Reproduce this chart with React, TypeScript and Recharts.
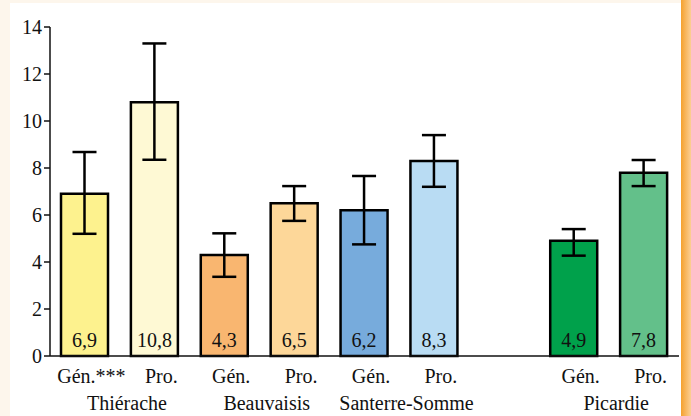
import React from 'react';
import { BarChart, Bar, XAxis, YAxis, ErrorBar, Cell, LabelList } from 'recharts';

const categories = ['Gén.***', 'Pro.', 'Gén.', 'Pro.', 'Gén.', 'Pro.', '', 'Gén.', 'Pro.'];
const groupNames = ['Thiérache', 'Beauvaisis', 'Santerre-Somme', 'Picardie'];
const groupStartIndex = [0, 2, 4, 7];
const values: (number | null)[] = [6.9, 10.8, 4.3, 6.5, 6.2, 8.3, null, 4.9, 7.8];
const lowerBounds: (number | null)[] = [5.2, 8.35, 3.37, 5.75, 4.75, 7.2, null, 4.27, 7.23];
const upperBounds: (number | null)[] = [8.68, 13.3, 5.22, 7.23, 7.66, 9.4, null, 5.4, 8.34];
const barColors = ['#fdf28e', '#fef9d4', '#f9b670', '#fdd799', '#77abdc', '#b9dcf3', '#ffffff', '#00a14b', '#63c08a'];
const yTicks = [0, 2, 4, 6, 8, 10, 12, 14];

const data = categories.map((c, i) => ({
  key: `c${i}`,
  label: c,
  value: values[i],
  err:
    values[i] == null
      ? null
      : [(values[i] as number) - (lowerBounds[i] as number), (upperBounds[i] as number) - (values[i] as number)],
}));

const FONT = "'Liberation Serif', 'DejaVu Serif', serif";
const textStyle: React.CSSProperties = { fontFamily: FONT, fontSize: 20, fill: '#111' };

const XTick = (props: any) => {
  const { x, y, payload } = props;
  const idx = payload.index;
  const gi = groupStartIndex.indexOf(idx);
  return (
    <g>
      <text x={x + 6.5} y={y + 19} textAnchor="middle" style={textStyle}>
        {categories[idx]}
      </text>
      {gi >= 0 && (
        <text x={x + 35 + 7} y={y + 46} textAnchor="middle" style={textStyle}>
          {groupNames[gi]}
        </text>
      )}
    </g>
  );
};

const YTick = (props: any) => {
  const { x, y, payload } = props;
  return (
    <text x={x} y={y + 7} textAnchor="end" style={textStyle}>
      {payload.value}
    </text>
  );
};

const ValueLabel = (props: any) => {
  const { x, y, width, height, value } = props;
  if (value == null) return null;
  return (
    <text x={x + width / 2} y={y + height - 9} textAnchor="middle" style={textStyle}>
      {String(value).replace('.', ',')}
    </text>
  );
};

export default function App() {
  return (
    <div
      style={{
        position: 'absolute',
        left: 0,
        top: 0,
        width: 691,
        height: 416,
        background: '#fdf6ec',
        overflow: 'hidden',
      }}
    >
      <div style={{ position: 'absolute', left: 10, top: 3, width: 671, height: 413, background: '#ffffff' }} />
      <div
        style={{
          position: 'absolute',
          left: 681,
          top: 0,
          width: 10,
          height: 416,
          background: 'linear-gradient(to right, #f5a12e, #fbcf94)',
        }}
      />
      <div style={{ position: 'absolute', left: 0, top: 0 }}>
        <BarChart
          width={691}
          height={416}
          data={data}
          margin={{ top: 27, right: 12, bottom: 0, left: 10 }}
          barSize={47}
        >
          <XAxis
            dataKey="key"
            height={60}
            axisLine={{ stroke: '#111', strokeWidth: 1.5 }}
            tickLine={false}
            tick={<XTick />}
            interval={0}
          />
          <YAxis
            domain={[0, 14]}
            ticks={yTicks}
            width={40}
            axisLine={{ stroke: '#111', strokeWidth: 1.5 }}
            tickLine={{ stroke: '#111', strokeWidth: 1.5 }}
            tickSize={6}
            tick={<YTick />}
          />
          <Bar dataKey="value" stroke="#000" strokeWidth={2.5} isAnimationActive={false}>
            {data.map((d, i) => (
              <Cell key={d.key} fill={barColors[i]} />
            ))}
            <LabelList dataKey="value" content={<ValueLabel />} />
            <ErrorBar dataKey="err" width={12} strokeWidth={2.5} stroke="#000" direction="y" />
          </Bar>
        </BarChart>
      </div>
    </div>
  );
}
